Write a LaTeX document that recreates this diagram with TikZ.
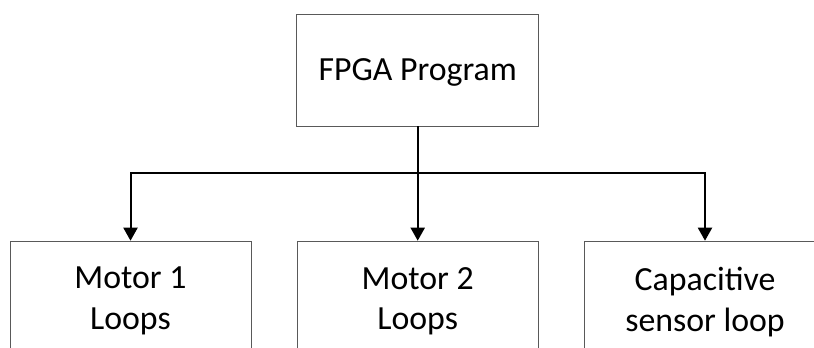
\documentclass[tikz,border=0pt]{standalone}
\usepackage{fontspec}
\setmainfont{Carlito}
\usetikzlibrary{arrows.meta}
\begin{document}
\begin{tikzpicture}[x=1bp,y=-1bp,
  box/.style={draw=black!65, line width=0.9bp, minimum width=241bp, align=center,
    font=\fontsize{33.8bp}{40.5bp}\selectfont, inner xsep=0bp},
  conn/.style={draw=black, line width=2bp},
  arr/.style={conn, -{Triangle[width=14bp,length=13bp]}}]
\useasboundingbox (0,0) rectangle (814,347);
\clip (0,0) rectangle (814,347);
\fill[white] (0,0) rectangle (814,347);
\node[box, minimum width=242bp, minimum height=112bp, text depth=0bp] (fpga) at (417.7,70) {FPGA Program};
\node[box, anchor=north, inner ysep=26bp] (m1) at (130.5,240.7) {Motor 1\\Loops};
\node[box, anchor=north, inner ysep=26bp] (m2) at (417.7,240.7) {Motor 2\\Loops};
\node[box, anchor=north, inner ysep=26bp] (cap) at (705,240.7) {Capacitive\\sensor loop};
\coordinate (bus) at (417.7,172.7);
\draw[conn] (fpga.south) -- (bus);
\draw[arr] (bus) -| (m1.north);
\draw[arr] (bus) -| (cap.north);
\draw[arr] (bus) -- (m2.north);
\end{tikzpicture}
\end{document}
